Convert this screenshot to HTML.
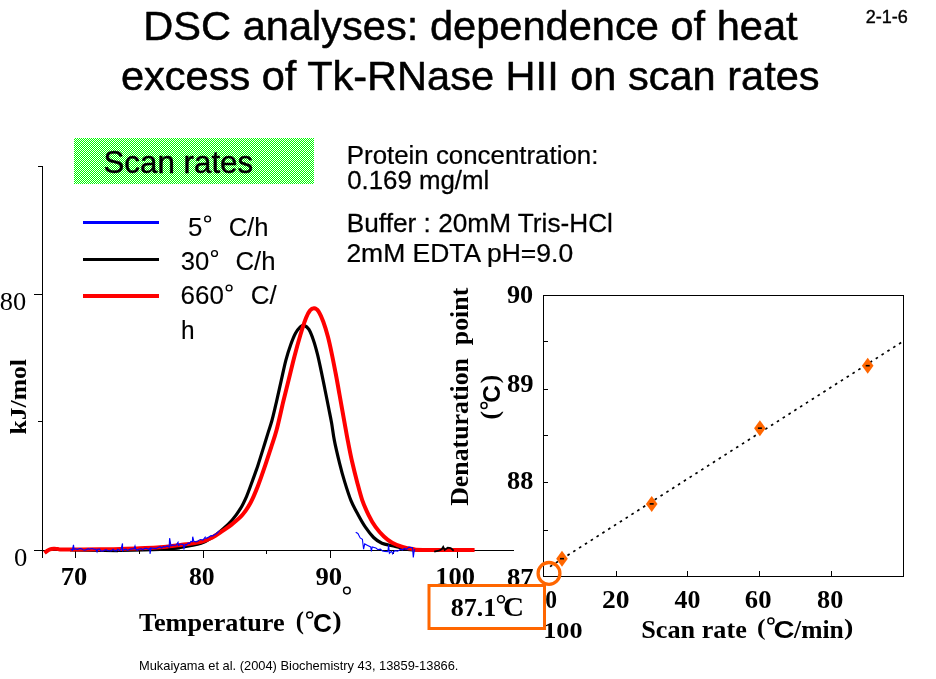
<!DOCTYPE html>
<html><head><meta charset="utf-8"><title>DSC analyses</title>
<style>
html,body{margin:0;padding:0;background:#fff;}
body{width:936px;height:679px;position:relative;overflow:hidden;font-family:"Liberation Sans",sans-serif;}
</style></head><body>
<svg width="936" height="679" viewBox="0 0 936 679" style="position:absolute;left:0;top:0;will-change:transform">
<defs><pattern id="ck" x="0" y="0" width="2" height="2" patternUnits="userSpaceOnUse"><rect x="1" y="0" width="1" height="1" fill="#00ff00"/><rect x="0" y="1" width="1" height="1" fill="#00ff00"/></pattern></defs>
<rect x="74" y="138" width="240" height="46" fill="url(#ck)" shape-rendering="crispEdges"/>
<rect x="83" y="221" width="76" height="3" fill="#0000ff"/>
<rect x="83" y="258" width="76" height="3" fill="#000"/>
<rect x="83" y="294" width="76" height="4" fill="#ff0000"/>
<circle cx="207.6" cy="219.0" r="2.9" fill="none" stroke="#000" stroke-width="1.4"/>
<circle cx="214.5" cy="253.5" r="2.9" fill="none" stroke="#000" stroke-width="1.4"/>
<circle cx="229.1" cy="288.0" r="2.9" fill="none" stroke="#000" stroke-width="1.4"/>
<g fill="#000" shape-rendering="crispEdges">
<rect x="42" y="166" width="1" height="392"/>
<rect x="42" y="550" width="472" height="1"/>
<rect x="38" y="166" width="4" height="1"/>
<rect x="34" y="294" width="8" height="1"/>
<rect x="38" y="421" width="4" height="1"/>
<rect x="34" y="550" width="8" height="1"/>
<rect x="75" y="550" width="1" height="8"/>
<rect x="139" y="550" width="1" height="4"/>
<rect x="203" y="550" width="1" height="8"/>
<rect x="266" y="550" width="1" height="4"/>
<rect x="330" y="550" width="1" height="8"/>
<rect x="393" y="550" width="1" height="4"/>
<rect x="457" y="550" width="1" height="8"/>
<rect x="543" y="295" width="361" height="1"/><rect x="543" y="576" width="361" height="1"/><rect x="543" y="295" width="1" height="282"/><rect x="903" y="295" width="1" height="282"/>
<rect x="544" y="341" width="4" height="1"/>
<rect x="544" y="389" width="4" height="1"/>
<rect x="544" y="435" width="4" height="1"/>
<rect x="544" y="482" width="4" height="1"/>
<rect x="544" y="530" width="4" height="1"/>
<rect x="616" y="571" width="1" height="5"/>
<rect x="687" y="571" width="1" height="5"/>
<rect x="759" y="571" width="1" height="5"/>
<rect x="831" y="571" width="1" height="5"/>
</g>
<path d="M70.0 550.0C78.3 550.0 105.0 550.4 120.0 550.3C135.0 550.2 149.9 550.0 160.0 549.5C170.1 549.0 173.7 548.4 180.6 547.4C187.5 546.4 195.7 545.1 201.2 543.3C206.7 541.5 209.8 539.0 213.6 536.5C217.4 534.0 220.8 531.0 223.9 528.2C227.0 525.5 229.4 523.2 232.2 520.0C234.9 516.8 238.0 512.6 240.4 508.7C242.8 504.8 244.5 501.1 246.6 496.3C248.7 491.5 250.9 485.0 252.8 479.8C254.7 474.6 256.2 470.5 257.9 465.4C259.6 460.2 261.4 454.4 263.1 448.9C264.8 443.4 266.8 437.0 268.2 432.4C269.6 427.8 270.4 426.0 271.8 421.0C273.2 416.0 274.8 408.8 276.4 402.2C277.9 395.6 279.5 388.1 281.1 381.1C282.7 374.1 284.3 366.2 285.9 360.1C287.5 354.1 289.1 349.3 290.7 344.8C292.3 340.3 293.9 336.3 295.5 333.3C297.1 330.3 298.9 328.1 300.3 326.8C301.7 325.5 302.7 325.0 304.1 325.4C305.5 325.8 307.3 326.8 308.9 329.4C310.5 332.0 312.3 336.8 313.7 340.9C315.1 345.0 316.2 349.2 317.5 354.3C318.8 359.4 320.0 365.5 321.3 371.6C322.6 377.7 323.9 384.3 325.2 390.7C326.5 397.1 327.9 404.4 329.0 409.8C330.1 415.2 330.7 417.9 331.6 423.0C332.5 428.1 333.1 433.9 334.4 440.6C335.7 447.3 337.9 456.4 339.6 463.3C341.3 470.2 342.8 475.7 344.7 481.9C346.6 488.1 348.7 494.9 350.9 500.4C353.1 505.9 355.7 510.3 358.1 514.8C360.5 519.3 362.8 523.4 365.4 527.2C368.0 531.0 370.9 534.8 373.6 537.5C376.4 540.2 378.8 541.9 381.9 543.3C385.0 544.7 388.8 545.0 392.2 545.8C395.6 546.6 399.1 547.5 402.5 548.2C405.9 548.9 404.1 549.6 412.8 549.9C421.6 550.2 448.0 550.0 455.0 550.0" fill="none" stroke="#000" stroke-width="3.2" stroke-linejoin="round"/>
<path d="M44.5 553.0C44.9 552.7 46.1 551.6 47.0 551.0C47.9 550.4 48.8 549.8 50.0 549.4C51.2 549.0 52.7 548.9 54.0 548.8C55.3 548.7 56.3 548.9 58.0 549.0C59.7 549.1 57.0 549.4 64.0 549.4C71.0 549.4 90.7 549.4 100.0 549.3C109.3 549.2 113.3 549.2 120.0 549.0C126.7 548.8 133.3 548.6 140.0 548.3C146.7 548.0 153.2 547.8 160.0 547.3C166.8 546.8 173.7 545.9 180.6 545.0C187.5 544.1 196.0 543.1 201.2 541.9C206.3 540.7 208.1 539.7 211.5 537.9C214.9 536.1 218.5 533.6 221.9 531.3C225.3 529.0 228.8 526.9 232.2 524.1C235.6 521.4 239.4 518.4 242.5 514.8C245.6 511.2 248.1 507.3 250.7 502.5C253.3 497.7 255.5 492.2 257.9 486.0C260.3 479.8 263.0 471.9 265.2 465.4C267.4 458.9 269.4 452.6 271.3 446.8C273.2 441.0 274.5 437.7 276.5 430.3C278.5 422.9 281.1 410.7 283.1 402.2C285.2 393.7 286.9 386.9 288.8 379.2C290.7 371.5 292.6 363.5 294.5 356.2C296.4 348.9 298.4 341.6 300.3 335.2C302.2 328.8 304.4 322.1 306.0 318.0C307.6 313.9 308.5 312.2 309.9 310.6C311.2 309.0 312.7 308.1 314.1 308.2C315.5 308.3 317.0 309.0 318.5 311.3C320.0 313.6 321.7 317.5 323.3 321.8C324.9 326.1 326.6 331.7 328.0 337.1C329.4 342.5 330.6 348.2 331.9 354.3C333.2 360.4 334.4 366.8 335.7 373.5C337.0 380.2 338.1 386.5 339.5 394.5C340.9 402.5 342.9 413.6 344.3 421.3C345.7 429.0 346.5 434.0 347.8 440.6C349.1 447.2 350.4 454.3 352.0 461.2C353.6 468.1 355.4 475.4 357.1 481.9C358.8 488.4 360.4 494.9 362.3 500.4C364.2 505.9 366.3 510.3 368.5 514.8C370.7 519.3 373.1 523.6 375.7 527.2C378.3 530.8 381.1 533.9 383.9 536.5C386.6 539.1 389.1 541.0 392.2 542.7C395.3 544.4 399.1 545.7 402.5 546.8C405.9 547.9 409.4 548.6 412.8 549.1C416.2 549.6 412.8 549.8 423.1 549.9C433.4 550.0 466.0 549.9 474.6 549.9" fill="none" stroke="#ff0000" stroke-width="4" stroke-linejoin="round"/>
<path d="M104 551.2L118 551.4M168 549.6L180 548.4" fill="none" stroke="#000" stroke-width="1.6"/>
<path d="M70.6 549.3L72.4 550.1L73.5 544.9L74.0 549.4L75.8 548.8L77.5 549.6L79.5 548.6L81.0 548.6L83.0 549.7L84.3 550.2L86.4 549.6L88.3 548.7L89.5 549.4L90.7 548.8L92.2 548.5L93.8 549.2L95.9 549.3L97.0 551.8L97.7 549.3L99.6 549.2L101.1 551.2L103.3 550.9L105.2 549.9L106.6 549.8L107.9 550.7L109.5 550.8L111.0 551.0L113.1 549.2L114.5 550.8L116.2 550.9L117.8 549.3L119.6 550.5L121.1 549.2L122.5 543.4L122.6 550.7L124.6 549.2L126.0 549.1L127.3 550.3L128.6 549.8L130.3 549.1L132.2 548.9L134.1 548.8L135.0 546.0L135.7 548.9L137.2 550.2L139.2 549.0L141.2 548.7L142.8 549.8L144.7 548.3L146.9 548.4L148.3 549.4L149.9 548.4L150.0 553.8L151.1 548.0L152.9 548.2L154.7 548.3L156.4 548.3L158.1 547.5L160.1 546.7L161.5 547.9L163.5 546.5L164.9 547.2L167.0 546.0L169.2 547.0L169.6 538.2L171.0 545.9L172.3 545.1L174.4 545.2L176.3 545.0L178.0 542.3L178.4 545.4L179.9 544.5L181.8 544.0L183.2 544.7L184.0 548.5L185.3 544.5L186.7 544.8L188.2 543.0L189.6 543.5L190.9 541.3L192.4 541.7L192.7 536.7L193.8 541.2L195.9 542.0L197.7 541.2L199.5 539.9L200.7 539.5L202.9 540.0L205.0 537.4L205.0 538.0L206.9 538.1L208.8 537.0L211.0 535.7L212.7 535.9L214.8 534.6L216.7 533.5L218.9 531.4L219.6 530.6" fill="none" stroke="#0000ff" stroke-width="1.15" stroke-linejoin="miter"/>
<path d="M355.7 532.3L357.9 533.5L360.2 537.9L362.4 539.4L363.6 549.2L364.7 543.9L367.7 545.4L370.7 546.9L371.4 551.4L372.2 546.9L375.9 548.1L378.0 549.6L380.4 549.2L382.5 551.0L384.9 551.4L387.9 551.7L388.6 544.7L389.4 553.2L391.6 551.1L392.6 553.7L394.6 550.7L397.6 551.1L400.6 549.2L402.5 550.0L404.3 548.4L406.5 549.3L408.8 547.2L412.5 547.7L413.3 557.4L414.0 552.2L414.8 549.2" fill="none" stroke="#0000ff" stroke-width="1.1"/>
<path d="M434.2 551.7L438.7 550.7L441.7 549.2L443.2 546.9L444.7 549.9L447.7 547.7L450.7 548.1L453.7 550.7" fill="none" stroke="#000" stroke-width="1.8"/>
<path d="M550 566.6L902 342" fill="none" stroke="#000" stroke-width="1.7" stroke-dasharray="2.6 4.3"/>
<path d="M562.0 550.7l5.8 8l-5.8 8l-5.8 -8z" fill="#ff6600"/>
<rect x="560.0" y="557.9" width="4" height="1.6" fill="#000"/>
<path d="M651.7 495.9l5.8 8l-5.8 8l-5.8 -8z" fill="#ff6600"/>
<rect x="649.7" y="503.1" width="4" height="1.6" fill="#000"/>
<path d="M759.9 420.2l5.8 8l-5.8 8l-5.8 -8z" fill="#ff6600"/>
<rect x="757.9" y="427.4" width="4" height="1.6" fill="#000"/>
<path d="M867.7 357.7l5.8 8l-5.8 8l-5.8 -8z" fill="#ff6600"/>
<rect x="865.7" y="364.9" width="4" height="1.6" fill="#000"/>
<circle cx="346.9" cy="590.6" r="3.3" fill="none" stroke="#000" stroke-width="1.5"/>
<text transform="translate(143.27 39.70) scale(1.0247 1.0000)" font-family="Liberation Sans" font-weight="400" font-size="40.6" stroke="#000" stroke-width="0.50" stroke-linejoin="round" xml:space="preserve">DSC analyses: dependence of heat</text>
<text transform="translate(120.91 89.70) scale(1.0233 1.0000)" font-family="Liberation Sans" font-weight="400" font-size="40.6" stroke="#000" stroke-width="0.50" stroke-linejoin="round" xml:space="preserve">excess of Tk-RNase HII on scan rates</text>
<text transform="translate(865.70 22.90) scale(1.0037 1.0000)" font-family="Liberation Sans" font-weight="400" font-size="18" stroke="#000" stroke-width="0.40" stroke-linejoin="round" xml:space="preserve">2-1-6</text>
<text transform="translate(103.43 172.84) scale(1.0451 1.0447)" font-family="Liberation Sans" font-weight="400" font-size="30" stroke="#000" stroke-width="0.40" stroke-linejoin="round" xml:space="preserve">Scan rates</text>
<text transform="translate(346.83 164.40) scale(1.0347 1.0000)" font-family="Liberation Sans" font-weight="400" font-size="25" stroke="#000" stroke-width="0.25" stroke-linejoin="round" xml:space="preserve">Protein concentration:</text>
<text transform="translate(347.17 188.70) scale(1.0341 1.0000)" font-family="Liberation Sans" font-weight="400" font-size="25" stroke="#000" stroke-width="0.25" stroke-linejoin="round" xml:space="preserve">0.169 mg/ml</text>
<text transform="translate(346.80 231.50) scale(1.0496 1.0000)" font-family="Liberation Sans" font-weight="400" font-size="25" stroke="#000" stroke-width="0.25" stroke-linejoin="round" xml:space="preserve">Buffer : 20mM Tris-HCl</text>
<text transform="translate(346.38 262.30) scale(1.0590 1.0000)" font-family="Liberation Sans" font-weight="400" font-size="25" stroke="#000" stroke-width="0.25" stroke-linejoin="round" xml:space="preserve">2mM EDTA pH=9.0</text>
<text transform="translate(187.98 236.14) scale(1.0167 1.0310)" font-family="Liberation Sans" font-weight="400" font-size="25.5" stroke="#000" stroke-width="0.12" stroke-linejoin="round" xml:space="preserve">5</text>
<text transform="translate(228.64 236.15) scale(1.0041 0.9920)" font-family="Liberation Sans" font-weight="400" font-size="25.5" stroke="#000" stroke-width="0.12" stroke-linejoin="round" xml:space="preserve">C/h</text>
<text transform="translate(180.79 270.34) scale(1.0075 1.0222)" font-family="Liberation Sans" font-weight="400" font-size="25.5" stroke="#000" stroke-width="0.12" stroke-linejoin="round" xml:space="preserve">30</text>
<text transform="translate(235.44 270.35) scale(1.0095 0.9973)" font-family="Liberation Sans" font-weight="400" font-size="25.5" stroke="#000" stroke-width="0.12" stroke-linejoin="round" xml:space="preserve">C/h</text>
<text transform="translate(180.53 304.44) scale(1.0186 1.0222)" font-family="Liberation Sans" font-weight="400" font-size="25.5" stroke="#000" stroke-width="0.12" stroke-linejoin="round" xml:space="preserve">660</text>
<text transform="translate(250.73 304.45) scale(1.0186 0.9973)" font-family="Liberation Sans" font-weight="400" font-size="25.5" stroke="#000" stroke-width="0.12" stroke-linejoin="round" xml:space="preserve">C/</text>
<text transform="translate(181.12 338.70) scale(0.9581 0.9838)" font-family="Liberation Sans" font-weight="400" font-size="25.5" stroke="#000" stroke-width="0.12" stroke-linejoin="round" xml:space="preserve">h</text>
<text transform="translate(-0.26 309.75) scale(1.0565 1.0118)" font-family="Liberation Serif" font-weight="400" font-size="25" xml:space="preserve">80</text>
<text transform="translate(13.93 565.65) scale(1.0667 0.9882)" font-family="Liberation Serif" font-weight="400" font-size="25" xml:space="preserve">0</text>
<text transform="translate(60.71 584.65) scale(1.0622 0.9941)" font-family="Liberation Serif" font-weight="700" font-size="25" xml:space="preserve">70</text>
<text transform="translate(188.93 584.65) scale(1.0280 0.9941)" font-family="Liberation Serif" font-weight="700" font-size="25" xml:space="preserve">80</text>
<text transform="translate(315.40 584.65) scale(1.0667 0.9941)" font-family="Liberation Serif" font-weight="700" font-size="25" xml:space="preserve">90</text>
<text transform="translate(435.28 584.65) scale(1.0609 0.9941)" font-family="Liberation Serif" font-weight="700" font-size="25" xml:space="preserve">100</text>
<text transform="translate(138.89 631.40) scale(1.0292 1.0000)" font-family="Liberation Serif" font-weight="700" font-size="25.5" xml:space="preserve">Temperature</text>
<text transform="translate(295.72 628.71) scale(0.9846 0.9689)" font-family="Liberation Serif" font-weight="700" font-size="25" xml:space="preserve">(</text>
<text transform="translate(332.16 628.71) scale(1.1231 0.9689)" font-family="Liberation Serif" font-weight="700" font-size="25" xml:space="preserve">)</text>
<text transform="translate(312.91 631.74) scale(1.0903 1.0529)" font-family="Liberation Sans" font-weight="700" font-size="24" xml:space="preserve">C</text>
<text transform="translate(138.97 669.50) scale(1.0298 1.0000)" font-family="Liberation Sans" font-weight="400" font-size="12.5" xml:space="preserve">Mukaiyama et al. (2004) Biochemistry 43, 13859-13866.</text>
<text transform="translate(506.91 302.65) scale(1.0495 1.0059)" font-family="Liberation Serif" font-weight="700" font-size="25" xml:space="preserve">90</text>
<text transform="translate(506.90 392.35) scale(1.0624 0.9882)" font-family="Liberation Serif" font-weight="700" font-size="25" xml:space="preserve">89</text>
<text transform="translate(507.01 488.75) scale(1.0511 0.9882)" font-family="Liberation Serif" font-weight="700" font-size="25" xml:space="preserve">88</text>
<text transform="translate(506.90 586.05) scale(1.0653 0.9882)" font-family="Liberation Serif" font-weight="700" font-size="25" xml:space="preserve">87</text>
<text transform="translate(545.36 607.75) scale(0.9429 0.9824)" font-family="Liberation Serif" font-weight="700" font-size="25" xml:space="preserve">0</text>
<text transform="translate(601.90 607.75) scale(1.1043 0.9824)" font-family="Liberation Serif" font-weight="700" font-size="25" xml:space="preserve">20</text>
<text transform="translate(674.54 607.75) scale(1.0358 0.9824)" font-family="Liberation Serif" font-weight="700" font-size="25" xml:space="preserve">40</text>
<text transform="translate(744.80 607.75) scale(1.0667 0.9824)" font-family="Liberation Serif" font-weight="700" font-size="25" xml:space="preserve">60</text>
<text transform="translate(817.01 607.75) scale(1.0495 0.9824)" font-family="Liberation Serif" font-weight="700" font-size="25" xml:space="preserve">80</text>
<text transform="translate(543.20 638.36) scale(1.0493 0.9412)" font-family="Liberation Serif" font-weight="700" font-size="25" xml:space="preserve">100</text>
<text transform="translate(641.30 637.60) scale(1.0402 1.0000)" font-family="Liberation Serif" font-weight="700" font-size="25.2" xml:space="preserve">Scan rate</text>
<text transform="translate(756.97 634.73) scale(1.0308 0.9467)" font-family="Liberation Serif" font-weight="700" font-size="25" xml:space="preserve">(</text>
<text transform="translate(844.06 634.73) scale(1.1231 0.9467)" font-family="Liberation Serif" font-weight="700" font-size="25" xml:space="preserve">)</text>
<text transform="translate(773.49 637.65) scale(1.2129 0.9824)" font-family="Liberation Sans" font-weight="700" font-size="24" xml:space="preserve">C</text>
<text transform="translate(794.05 637.60) scale(1.0143 1.0000)" font-family="Liberation Serif" font-weight="700" font-size="25.2" xml:space="preserve">/min</text>
<text transform="translate(25.90 0) rotate(-90) translate(-434.53 0.00) scale(1.0681 1.0000)" font-family="Liberation Serif" font-weight="700" font-size="24" xml:space="preserve">kJ/mol</text>
<text transform="translate(467.90 0) rotate(-90) translate(-505.81 0.00) scale(1.0128 1.0000)" font-family="Liberation Serif" font-weight="700" font-size="25.5" xml:space="preserve">Denaturation  point</text>
<text transform="translate(500.20 0) rotate(-90) translate(-419.52 -2.36) scale(1.0154 0.9822)" font-family="Liberation Serif" font-weight="700" font-size="25" xml:space="preserve">(</text>
<text transform="translate(500.20 0) rotate(-90) translate(-383.36 -2.36) scale(1.0154 0.9822)" font-family="Liberation Serif" font-weight="700" font-size="25" xml:space="preserve">)</text>
<text transform="translate(500.20 0) rotate(-90) translate(-402.71 -0.25) scale(1.0129 1.0059)" font-family="Liberation Sans" font-weight="700" font-size="24" xml:space="preserve">C</text>
<rect x="429" y="585.5" width="115.5" height="43" fill="#fff" stroke="#ff6600" stroke-width="3"/>
<circle cx="549" cy="573.4" r="10.9" fill="none" stroke="#ff6600" stroke-width="3.3"/>
<text transform="translate(450.72 615.95) scale(1.0419 1.0176)" font-family="Liberation Serif" font-weight="700" font-size="25" xml:space="preserve">87.1</text>
<text transform="translate(502.88 615.93) scale(1.2140 1.0954)" font-family="Liberation Serif" font-weight="700" font-size="24" xml:space="preserve">C</text>
<circle cx="309.7" cy="615.0" r="3.0" fill="none" stroke="#000" stroke-width="1.4"/>
<circle cx="501.0" cy="599.2" r="3.4" fill="none" stroke="#000" stroke-width="1.6"/>
<circle cx="770.9" cy="621.0" r="3.0" fill="none" stroke="#000" stroke-width="1.5"/>
<circle cx="484.0" cy="405.4" r="3.0" fill="none" stroke="#000" stroke-width="1.5"/>
</svg>
</body></html>
